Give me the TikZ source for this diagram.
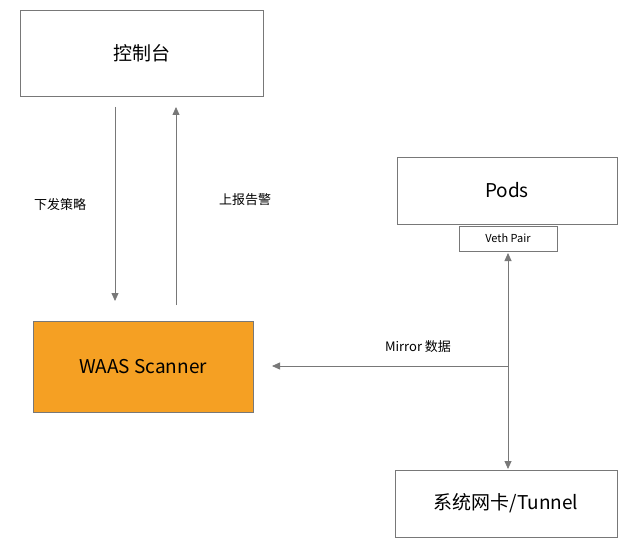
\documentclass[tikz,border=0pt]{standalone}
\usepackage{fontspec}
\setmainfont{Noto Sans CJK SC}
\usetikzlibrary{arrows.meta,positioning}
\definecolor{linegray}{RGB}{120,120,120}
\definecolor{waasorange}{RGB}{245,160,35}
\tikzset{
    box/.style={draw=linegray,fill=white,inner sep=0pt,font=\fontsize{19}{22}\selectfont},
    tag/.style={font=\fontsize{13}{15}\selectfont},
    flow/.style={draw=linegray,line width=0.8pt,-{Triangle[width=7pt,length=8pt]}}
}
\begin{document}
\begin{tikzpicture}[x=1pt,y=-1pt]
    \useasboundingbox[fill=white] (0,0) rectangle (628,548);
    \node[box,minimum width=243pt,minimum height=86pt] (console) at (141.5,53) {控制台};
    \node[box,minimum width=220pt,minimum height=67pt] (pods) at (507,190.5) {Pods};
    \node[box,minimum width=98pt,minimum height=25pt,font=\fontsize{11}{13}\selectfont] (veth) at (508,238.5) {Veth Pair};
    \node[box,fill=waasorange,minimum width=220pt,minimum height=91pt] (waas) at (143,366.5) {WAAS Scanner};
    \node[box,minimum width=222pt,minimum height=67pt] (nic) at (506,503.5) {系统网卡/Tunnel};
    % console <-> scanner
    \coordinate (downtop) at (115,107);
    \coordinate (downend) at (115,301);
    \coordinate (upstart) at (176,305);
    \coordinate (upend) at (176,107);
    \draw[flow] (downtop) -- (downend);
    \draw[flow] (upstart) -- (upend);
    \node[tag] (policy) at (60,205) {下发策略};
    \node[tag] (alert) at (245,200) {上报告警};
    % mirror path
    \coordinate (veth bot) at (508,253);
    \coordinate (nic top) at (508,469);
    \coordinate (tap) at (508,366);
    \coordinate (mirrorend) at (272,366);
    \draw[flow,{Triangle[width=7pt,length=8pt]}-{Triangle[width=7pt,length=8pt]}] (veth bot) -- (nic top);
    \draw[flow] (tap) -- (mirrorend);
    \node[tag] (mirror) at (418,347) {Mirror 数据};
\end{tikzpicture}
\end{document}
